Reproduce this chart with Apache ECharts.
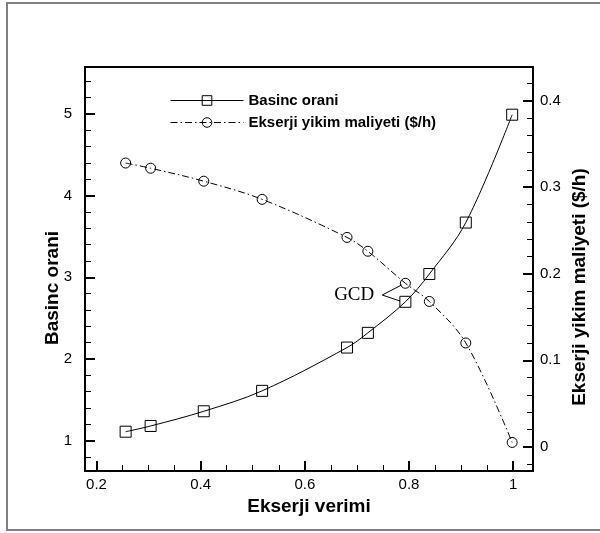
<!DOCTYPE html>
<html>
<head>
<meta charset="utf-8">
<script src="https://cdn.jsdelivr.net/npm/echarts@6/dist/echarts.min.js"></script>
<style>
  html, body { margin: 0; padding: 0; background: #fff; }
  #chart { width: 600px; height: 533px; }
</style>
</head>
<body>
<div id="chart"></div>
<script>
// Ekserji verimi (x)
var verim = [0.256, 0.304, 0.406, 0.518, 0.681, 0.721, 0.793, 0.839, 0.909, 0.998]
// Basinc orani (sol eksen)
var basincOrani = [1.11, 1.18, 1.36, 1.61, 2.14, 2.32, 2.70, 3.04, 3.67, 4.99]
// Ekserji yikim maliyeti $/h (sag eksen)
var yikimMaliyeti = [0.328, 0.322, 0.307, 0.286, 0.242, 0.226, 0.189, 0.168, 0.120, 0.005]

// eksen etiketleri
var xTicks = [0.2, 0.4, 0.6, 0.8, 1]
var leftTicks = [1, 2, 3, 4, 5]
var rightTicks = [0, 0.1, 0.2, 0.3, 0.4]

// GCD isaretcisi (veri koordinatlari, sol eksen)
var gcdAt = [0.7486, 2.783]
var gcdTo = [[0.7858, 2.906], [0.7826, 2.71]]

var FONT = 'Liberation Sans, Arial, sans-serif'

/**
 * ara tikler (minor)
 */
function steps(from, to, step) {
  var out = []
  for (var v = from; v <= to + 1e-9; v += step) out.push(Math.round(v * 1000) / 1000)
  return out
}

var xRange = { min: 0.178, max: 1.038 }
var leftRange = { min: 0.629, max: 5.574 }
var rightRange = { min: -0.028, max: 0.439 }

function majorAxis(range, pos, ticks, extra) {
  return Object.assign({
    type: 'value',
    position: pos,
    min: range.min,
    max: range.max,
    splitLine: { show: false },
    axisLine: { show: true, onZero: false, lineStyle: { color: '#000', width: 2 } },
    axisTick: { show: true, inside: true, length: 10, customValues: ticks, lineStyle: { color: '#000', width: 2 } },
    axisLabel: { customValues: ticks, color: '#000', fontSize: 15, fontFamily: FONT }
  }, extra || {})
}

function minorAxis(range, pos, ticks) {
  return {
    type: 'value',
    position: pos,
    min: range.min,
    max: range.max,
    splitLine: { show: false },
    axisLine: { show: false, onZero: false },
    axisTick: { show: true, inside: true, length: 6, customValues: ticks, lineStyle: { color: '#000', width: 1 } },
    axisLabel: { show: false }
  }
}

var chart = echarts.init(document.getElementById('chart'))

var option = {
  animation: false,
  backgroundColor: '#fff',
  grid: { left: 85, top: 67, width: 448, height: 404, show: true, borderColor: '#000', borderWidth: 2 },
  legend: {
    orient: 'vertical',
    left: 165,
    top: 88,
    itemWidth: 73,
    itemHeight: 12,
    itemGap: 7,
    lineStyle: { width: 1 },
    itemStyle: { borderWidth: 1 },
    textStyle: { color: '#000', fontSize: 15, fontWeight: 'bold', fontFamily: FONT },
    data: ['Basinc orani', 'Ekserji yikim maliyeti ($/h)']
  },
  xAxis: [
    majorAxis(xRange, 'bottom', xTicks, {
      name: 'Ekserji verimi',
      nameLocation: 'middle',
      nameGap: 22,
      nameTextStyle: { color: '#000', fontSize: 19, fontWeight: 'bold', fontFamily: FONT },
      axisLabel: { customValues: xTicks, color: '#000', fontSize: 15, fontFamily: FONT, margin: 6 }
    }),
    minorAxis(xRange, 'bottom', steps(0.2, 1, 0.05))
  ],
  yAxis: [
    majorAxis(leftRange, 'left', leftTicks, {
      axisLabel: { customValues: leftTicks, color: '#000', fontSize: 15, fontFamily: FONT, margin: 13 }
    }),
    minorAxis(leftRange, 'left', steps(0.8, 5.4, 0.2)),
    majorAxis(rightRange, 'right', rightTicks, {
      axisLabel: { customValues: rightTicks, color: '#000', fontSize: 15, fontFamily: FONT, margin: 7 }
    }),
    minorAxis(rightRange, 'right', steps(-0.02, 0.42, 0.02))
  ],
  graphic: [
    {
      type: 'rect',
      shape: { x: 7, y: 3, width: 640, height: 527 },
      style: { fill: 'none', stroke: '#808080', lineWidth: 2 },
      silent: true
    },
    {
      type: 'text',
      x: 53,
      y: 288,
      rotation: Math.PI / 2,
      style: { text: 'Basinc orani', x: 0, y: 0, align: 'center', verticalAlign: 'middle', fill: '#000', font: 'bold 19px ' + FONT }
    },
    {
      type: 'text',
      x: 580,
      y: 287,
      rotation: Math.PI / 2,
      style: { text: 'Ekserji yikim maliyeti ($/h)', x: 0, y: 0, align: 'center', verticalAlign: 'middle', fill: '#000', font: 'bold 19px ' + FONT }
    }
  ],
  series: [
    {
      name: 'Basinc orani',
      type: 'line',
      xAxisIndex: 0,
      yAxisIndex: 0,
      smooth: 0.35,
      symbol: 'rect',
      symbolSize: 11,
      data: verim.map(function (x, i) { return [x, basincOrani[i]] }),
      lineStyle: { color: '#000', width: 1 },
      itemStyle: { color: 'transparent', borderColor: '#000', borderWidth: 1 },
      markLine: {
        silent: true,
        symbol: ['none', 'none'],
        lineStyle: { color: '#000', type: 'solid', width: 1 },
        label: { show: false },
        data: gcdTo.map(function (p) { return [{ coord: gcdAt }, { coord: p }] })
      },
      markPoint: {
        silent: true,
        symbol: 'circle',
        symbolSize: 0,
        itemStyle: { color: 'transparent' },
        label: {
          show: true,
          position: 'left',
          distance: 8,
          formatter: 'GCD',
          color: '#000',
          fontSize: 19,
          fontFamily: 'Liberation Serif, Times New Roman, serif'
        },
        data: [{ coord: gcdAt }]
      }
    },
    {
      name: 'Ekserji yikim maliyeti ($/h)',
      type: 'line',
      xAxisIndex: 0,
      yAxisIndex: 2,
      smooth: 0.35,
      symbol: 'circle',
      symbolSize: 10,
      data: verim.map(function (x, i) { return [x, yikimMaliyeti[i]] }),
      lineStyle: { color: '#000', width: 1, type: [7, 3, 1.5, 3] },
      itemStyle: { color: 'transparent', borderColor: '#000', borderWidth: 1 }
    }
  ]
}

chart.setOption(option)
</script>
</body>
</html>
